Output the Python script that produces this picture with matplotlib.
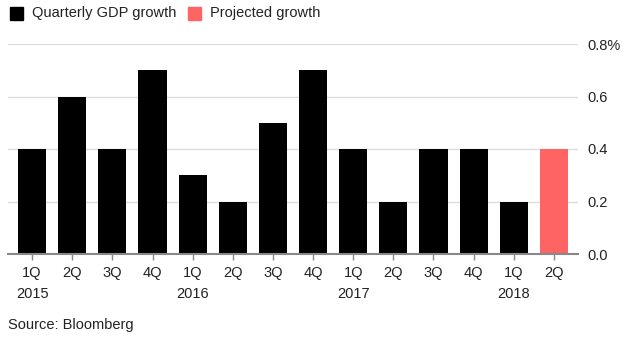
import matplotlib.pyplot as plt
import matplotlib.transforms as mtransforms
from matplotlib.patches import Rectangle

plt.rcParams['font.family'] = ['Liberation Sans', 'DejaVu Sans']

quarters = ['1Q', '2Q', '3Q', '4Q', '1Q', '2Q', '3Q', '4Q', '1Q', '2Q', '3Q', '4Q', '1Q', '2Q']
years = {0: '2015', 4: '2016', 8: '2017', 12: '2018'}
growth = [0.4, 0.6, 0.4, 0.7, 0.3, 0.2, 0.5, 0.7, 0.4, 0.2, 0.4, 0.4, 0.2, 0.4]
projected = [False] * 13 + [True]
yticks = [0.0, 0.2, 0.4, 0.6, 0.8]
ytick_labels = ['0.0', '0.2', '0.4', '0.6', '0.8%']

black = '#000000'
red = '#ff6464'
fs = 10.5

fig = plt.figure(figsize=(6.34, 3.39), dpi=100)
ax = fig.add_axes([8 / 634, 85 / 339, 570 / 634, 210 / 339])

x = list(range(len(growth)))
colors = [red if p else black for p in projected]
ax.bar(x, growth, width=0.7, color=colors, zorder=3)

ax.set_xlim(-0.6, 13.6)
ax.set_ylim(0, 0.8)
ax.set_yticks(yticks)
ax.set_yticklabels(ytick_labels)
ax.yaxis.tick_right()
ax.tick_params(axis='y', length=0, pad=6.5, labelsize=fs, labelcolor='#222222')
ax.grid(axis='y', color='#dddddd', linewidth=1, zorder=0)

ax.set_xticks(x)
ax.set_xticklabels(quarters)
ax.tick_params(axis='x', length=4, width=1, color='#888888', pad=5,
               labelsize=fs, labelcolor='#222222')

for side in ['top', 'right', 'left']:
    ax.spines[side].set_visible(False)
ax.spines['bottom'].set_color('#888888')
ax.spines['bottom'].set_linewidth(1.5)
ax.spines['bottom'].set_zorder(4)

trans = mtransforms.blended_transform_factory(ax.transData, fig.transFigure)
for i, yr in years.items():
    ax.text(i, 1 - 294 / 339, yr, transform=trans, ha='center', va='center',
            fontsize=fs, color='#222222')

# legend
fig.patches.append(Rectangle((10 / 634, 1 - 20 / 339), 13 / 634, 13 / 339,
                             transform=fig.transFigure, color=black))
fig.text(32 / 634, 1 - 13 / 339, 'Quarterly GDP growth', va='center', fontsize=fs, color='#222222')
fig.patches.append(Rectangle((188 / 634, 1 - 20 / 339), 13 / 634, 13 / 339,
                             transform=fig.transFigure, color=red))
fig.text(210 / 634, 1 - 13 / 339, 'Projected growth', va='center', fontsize=fs, color='#222222')

fig.text(8 / 634, 1 - 325 / 339, 'Source: Bloomberg', va='center', fontsize=fs, color='#222222')

fig.savefig('out.png', dpi=100)
